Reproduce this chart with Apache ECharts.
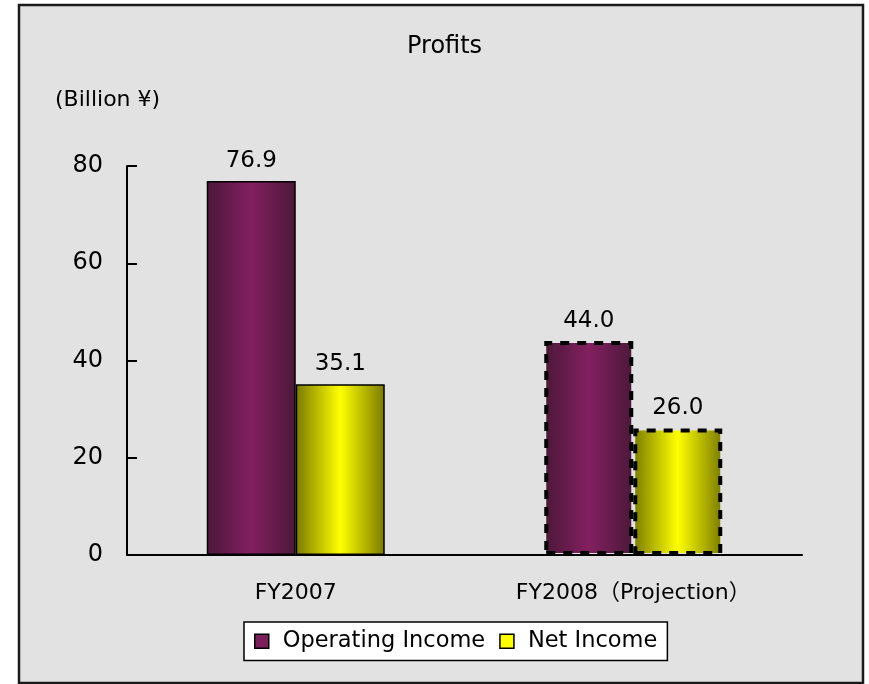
<!DOCTYPE html>
<html>
<head>
<meta charset="utf-8">
<script src="https://cdn.jsdelivr.net/npm/echarts@6/dist/echarts.min.js"></script>
<style>
  html, body { margin: 0; padding: 0; background: #fff; }
  #chart { width: 869px; height: 684px; }
</style>
</head>
<body>
<div id="chart"></div>
<script>
// data
const categories = ['FY2007', 'FY2008\uFF08Projection\uFF09'];
const operatingIncome = [76.9, 44.0];
const netIncome = [35.1, 26.0];
const yTicks = [0, 20, 40, 60, 80];
const projected = [false, true]; // second year is a projection, drawn with dashed outline

const font = '"DejaVu Sans", "Noto Sans CJK JP", sans-serif';

const mychart = echarts.init(document.getElementById('chart'));

function grad(edge, mid) {
  return new echarts.graphic.LinearGradient(0, 0, 1, 0, [
    { offset: 0, color: edge },
    { offset: 0.5, color: mid },
    { offset: 1, color: edge }
  ]);
}

function barData(values, edge, mid) {
  return values.map((v, i) => ({
    value: v,
    itemStyle: projected[i]
      ? { color: grad(edge, mid), borderColor: '#000', borderWidth: 4, borderType: [9, 8] }
      : { color: grad(edge, mid), borderColor: '#000', borderWidth: 1.5 }
  }));
}

const labelStyle = {
  show: true,
  position: 'top',
  distance: 9,
  fontSize: 23,
  color: '#000',
  fontFamily: font,
  formatter: p => p.value.toFixed(1)
};

const option = {
  backgroundColor: '#fff',
  animation: false,
  graphic: [
    {
      type: 'rect',
      shape: { x: 19, y: 5, width: 844, height: 678 },
      style: { fill: '#e2e2e2', stroke: '#1a1a1a', lineWidth: 2.5 },
      z: -10
    },
    {
      type: 'text',
      left: 55, top: 89,
      style: { text: '(Billion \u00A5)', fontSize: 22, fill: '#000', fontFamily: font }
    }
  ],
  title: {
    text: 'Profits',
    left: 402,
    top: 30,
    textStyle: { fontSize: 24, fontWeight: 'normal', color: '#000', fontFamily: font }
  },
  legend: {
    left: 244,
    top: 622,
    padding: [8, 10, 8, 10],
    itemGap: 14,
    itemWidth: 14,
    itemHeight: 14,
    icon: 'rect',
    backgroundColor: '#fff',
    borderColor: '#000',
    borderWidth: 1.5,
    textStyle: { fontSize: 22.5, color: '#000', fontFamily: font, padding: [0, 0, 0, 9] },
    data: [
      { name: 'Operating Income', itemStyle: { color: '#7a1f5a', borderColor: '#000', borderWidth: 1.5 } },
      { name: 'Net Income', itemStyle: { color: '#ffff00', borderColor: '#000', borderWidth: 1.5 } }
    ]
  },
  grid: { left: 127, right: 67, top: 166, bottom: 129 },
  xAxis: {
    type: 'category',
    data: categories,
    axisLine: { lineStyle: { color: '#000', width: 2 } },
    axisTick: { inside: true, length: 7, lineStyle: { color: '#000', width: 2 } },
    axisLabel: { fontSize: 22, color: '#000', margin: 27, fontFamily: font }
  },
  yAxis: {
    type: 'value',
    min: yTicks[0],
    max: yTicks[yTicks.length - 1],
    interval: 20,
    splitLine: { show: false },
    axisLine: { show: true, lineStyle: { color: '#000', width: 2 } },
    axisTick: { show: true, inside: true, length: 10, lineStyle: { color: '#000', width: 2 } },
    axisLabel: { fontSize: 24, color: '#000', margin: 24, fontFamily: font, padding: [6, 0, 0, 0] }
  },
  series: [
    {
      name: 'Operating Income',
      type: 'bar',
      barWidth: 89,
      barGap: '0%',
      data: barData(operatingIncome, '#4b1839', '#831f60'),
      label: labelStyle
    },
    {
      name: 'Net Income',
      type: 'bar',
      barWidth: 89,
      barGap: '0%',
      data: barData(netIncome, '#7a7a00', '#ffff00'),
      label: labelStyle
    }
  ]
};

mychart.setOption(option);
</script>
</body>
</html>
